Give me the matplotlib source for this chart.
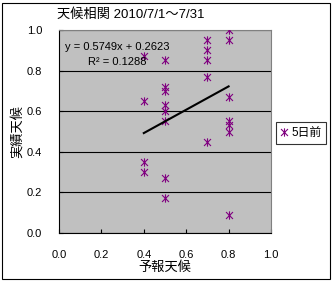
import matplotlib
matplotlib.use("Agg")
import matplotlib.pyplot as plt
from matplotlib.lines import Line2D
from matplotlib.patches import Rectangle
from matplotlib.path import Path

plt.rcParams["font.family"] = ["Liberation Sans", "Noto Sans CJK JP"]
plt.rcParams["axes.unicode_minus"] = False

# 5日前の予報天候と実績天候
forecast = [0.4, 0.4, 0.4, 0.4,
            0.5, 0.5, 0.5, 0.5, 0.5, 0.5, 0.5, 0.5,
            0.7, 0.7, 0.7, 0.7, 0.7,
            0.8, 0.8, 0.8, 0.8, 0.8, 0.8, 0.8]
actual = [0.87, 0.65, 0.35, 0.30,
          0.85, 0.72, 0.70, 0.63, 0.60, 0.55, 0.27, 0.17,
          0.95, 0.90, 0.85, 0.77, 0.45,
          1.00, 0.95, 0.67, 0.55, 0.53, 0.50, 0.09]

# 近似曲線 (Excel の線形近似)
slope = 0.5749
intercept = 0.2623
r2 = 0.1288
trend_x = [0.4, 0.8]

# Excel の「*」マーカー: X と縦線
star = Path([(-1, -1), (1, 1), (-1, 1), (1, -1), (0, -1.2), (0, 1.2)],
            [Path.MOVETO, Path.LINETO, Path.MOVETO, Path.LINETO, Path.MOVETO, Path.LINETO])
purple = "#800080"

W, H = 333, 281
fig = plt.figure(figsize=(W / 100, H / 100), dpi=100)
fig.patch.set_facecolor("white")
fig.patches.append(Rectangle((2 / W, 2 / H), 328 / W, 276 / H, transform=fig.transFigure,
                             fill=False, edgecolor="black", linewidth=0.8))

ax = fig.add_axes([59 / W, (H - 233) / H, 212 / W, 203 / H])
ax.set_facecolor("#C0C0C0")

ax.plot(forecast, actual, linestyle="none", marker=star, markersize=6,
        markeredgewidth=0.8, markerfacecolor="none", color=purple, zorder=3)
trend_y = [slope * x + intercept for x in trend_x]
ax.plot(trend_x, trend_y, color="black", linewidth=1.5, zorder=4)

ax.set_xlim(0, 1.0)
ax.set_ylim(0, 1.0)
ticks = [0.0, 0.2, 0.4, 0.6, 0.8, 1.0]
ax.set_xticks(ticks)
ax.set_yticks(ticks)
ax.set_xticklabels(["%.1f" % t for t in ticks])
ax.set_yticklabels(["%.1f" % t for t in ticks])
ax.tick_params(direction="in", length=3, width=0.8, labelsize=8, pad=12, colors="black")
ax.yaxis.grid(True, color="black", linewidth=0.8)
ax.set_axisbelow(True)

for s in ["left", "bottom"]:
    ax.spines[s].set_color("black")
    ax.spines[s].set_linewidth(0.8)
for s in ["top", "right"]:
    ax.spines[s].set_color("#808080")
    ax.spines[s].set_linewidth(0.8)

ax.set_xlabel("予報天候", fontsize=9.5, labelpad=1)
ax.set_ylabel("実績天候", fontsize=9.5, labelpad=2)

fig.text(131 / W, 1 - 15 / H, "天候相関 2010/7/1～7/31", fontsize=9.5,
         ha="center", va="center")
fig.text(117 / W, 1 - 47 / H, "y = 0.5749x + 0.2623", fontsize=8, ha="center", va="center")
fig.text(117 / W, 1 - 62 / H, "R² = %.4f" % r2, fontsize=8, ha="center", va="center")

handle = Line2D([], [], linestyle="none", marker=star, markersize=6,
                markeredgewidth=0.8, markerfacecolor="none", color=purple)
leg = fig.legend([handle], ["5日前"], loc="center", bbox_to_anchor=(301 / W, 1 - 133 / H),
                 fontsize=8.5, frameon=True, fancybox=False, handlelength=0.6,
                 handletextpad=0.3, borderpad=0.4, borderaxespad=0)
leg.get_frame().set_edgecolor("black")
leg.get_frame().set_linewidth(0.8)

fig.savefig("out.png", dpi=100)
